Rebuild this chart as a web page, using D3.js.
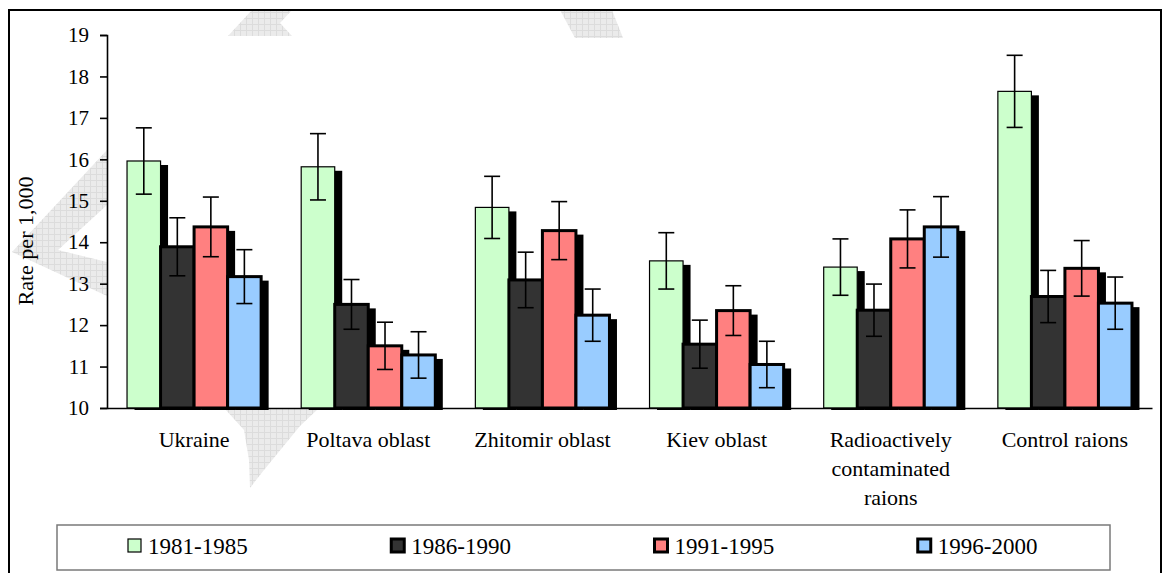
<!DOCTYPE html>
<html><head><meta charset="utf-8">
<script src="https://cdn.jsdelivr.net/npm/d3@7"></script>
<style>
body{margin:0;background:#fff}
svg{display:block}
text{font-family:"Liberation Serif","Times New Roman",serif;fill:#000}
</style>
</head><body>
<svg id="c" width="1164" height="573"></svg>
<script>
// ---- data ----
const categories = ["Ukraine","Poltava oblast","Zhitomir oblast","Kiev oblast","Radioactively contaminated raions","Control raions"];
const categoryLines = [["Ukraine"],["Poltava oblast"],["Zhitomir oblast"],["Kiev oblast"],["Radioactively","contaminated","raions"],["Control raions"]];
const seriesNames = ["1981-1985","1986-1990","1991-1995","1996-2000"];
const seriesColors = ["#CCFFCC","#333333","#FF8080","#99CCFF"];
const v1981 = [15.96,15.82,14.84,13.55,13.40,17.64];
const v1986 = [13.89,12.50,13.09,11.54,12.36,12.69];
const v1991 = [14.37,11.50,14.28,12.35,14.08,13.37];
const v1996 = [13.17,11.28,12.24,11.05,14.37,12.53];
const e1981 = [0.80,0.80,0.75,0.68,0.68,0.87];
const e1986 = [0.70,0.60,0.67,0.58,0.63,0.63];
const e1991 = [0.72,0.57,0.70,0.60,0.70,0.67];
const e1996 = [0.65,0.56,0.63,0.56,0.73,0.63];
const yTicks = [10,11,12,13,14,15,16,17,18,19];
const yTitle = "Rate per 1,000";

const values = [v1981,v1986,v1991,v1996];
const errors = [e1981,e1986,e1991,e1996];

const svg = d3.select("#c");

// ---- watermark (faint decoration) ----
const defs = svg.append("defs");
const pat = defs.append("pattern").attr("id","hatch").attr("width",6).attr("height",6)
  .attr("patternUnits","userSpaceOnUse");
pat.append("rect").attr("width",6).attr("height",6).attr("fill","#ebebeb");
pat.append("path").attr("d","M0,0.5H6M0.5,0V6").attr("stroke","#dcdcdc").attr("stroke-width",1);
const wm = [
  [[228,36],[252,10],[292,10],[280,23],[292,36]],
  [[560,10],[612,10],[623,38],[575,38]],
  [[107,150],[12,252],[107,296],[107,262],[58,250],[107,205]],
  [[225,409],[318,409],[300,426],[264,470],[250,488],[249,460],[244,430]]
];
svg.append("g").selectAll("polygon").data(wm).join("polygon")
  .attr("points",d=>d.map(p=>p.join(",")).join(" "))
  .attr("fill","url(#hatch)");

// ---- frame ----
svg.append("rect").attr("x",9).attr("y",10).attr("width",1152).attr("height",570)
  .attr("fill","none").attr("stroke","#000").attr("stroke-width",2);

// ---- scales ----
const x0 = d3.scaleBand().domain(categories).range([107,1152]).padding(0);
const bw = x0.bandwidth();
const x1 = d3.scaleBand().domain(seriesNames).range([bw*0.115, bw*0.885]).padding(0);
const y = d3.scaleLinear().domain([10,19]).range([408,35]);

// ---- bars ----
const gBars = svg.append("g");
seriesNames.forEach((s,si)=>{
  const data = categories.map((c,ci)=>({c,v:values[si][ci],e:errors[si][ci]}));
  const g = gBars.append("g");
  g.selectAll("rect.sh").data(data).join("rect").attr("class","sh")
    .attr("x",d=>x0(d.c)+x1(s)+7.5).attr("y",d=>y(d.v)+4)
    .attr("width",x1.bandwidth()).attr("height",d=>y(10)-y(d.v)-2)
    .attr("fill","#000");
  g.selectAll("rect.bar").data(data).join("rect").attr("class","bar")
    .attr("x",d=>x0(d.c)+x1(s)).attr("y",d=>y(d.v))
    .attr("width",x1.bandwidth()).attr("height",d=>y(10)-y(d.v))
    .attr("fill",seriesColors[si]).attr("stroke","#000")
    .attr("stroke-width",si===0?1.2:3);
});

// ---- error bars ----
const gErr = svg.append("g").attr("stroke","#000").attr("stroke-width",1.6);
seriesNames.forEach((s,si)=>{
  categories.forEach((c,ci)=>{
    const cx = x0(c)+x1(s)+x1.bandwidth()/2;
    const v = values[si][ci], e = errors[si][ci];
    gErr.append("line").attr("x1",cx).attr("x2",cx).attr("y1",y(v+e)).attr("y2",y(v-e));
    gErr.append("line").attr("x1",cx-8).attr("x2",cx+8).attr("y1",y(v+e)).attr("y2",y(v+e));
    gErr.append("line").attr("x1",cx-8).attr("x2",cx+8).attr("y1",y(v-e)).attr("y2",y(v-e));
  });
});

// ---- axes ----
const yAxis = svg.append("g").attr("transform","translate(107,0)")
  .call(d3.axisLeft(y).tickValues(yTicks).tickSize(7).tickPadding(11).tickFormat(d3.format("d")));
yAxis.select(".domain").attr("stroke","#000").attr("stroke-width",1.6);
yAxis.selectAll(".tick line").attr("stroke","#000").attr("stroke-width",1.6);
yAxis.selectAll("text").attr("font-size",21).attr("font-family","Liberation Serif");

const xAxis = svg.append("g").attr("transform","translate(0,408)")
  .call(d3.axisBottom(x0).tickSize(0).tickSizeOuter(0).tickFormat(""));
xAxis.select(".domain").attr("stroke","#000").attr("stroke-width",1.4);
xAxis.selectAll(".tick").each(function(d,i){
  const t = d3.select(this).append("text").attr("text-anchor","middle")
    .attr("font-size",22).attr("font-family","Liberation Serif").attr("fill","#000");
  categoryLines[i].forEach((ln,li)=>{
    t.append("tspan").attr("x",0).attr("y",39+li*29).text(ln);
  });
});

// ---- y title ----
svg.append("text").attr("transform","translate(33,241) rotate(-90)")
  .attr("text-anchor","middle").attr("font-size",22).text(yTitle);

// ---- legend ----
const lg = svg.append("g");
lg.append("rect").attr("x",57).attr("y",525).attr("width",1053).attr("height",45)
  .attr("fill","#fff").attr("stroke","#7a7a7a").attr("stroke-width",1.5);
const lx = d3.scaleBand().domain(seriesNames).range([57,1110]);
const items = lg.selectAll("g.it").data(seriesNames).join("g").attr("class","it")
  .attr("transform",d=>`translate(${lx(d)+71},0)`);
items.append("rect").attr("x",0).attr("y",539).attr("width",13).attr("height",13)
  .attr("fill",(d,i)=>seriesColors[i]).attr("stroke","#000")
  .attr("stroke-width",(d,i)=>i===0?1.2:3);
items.append("text").attr("x",20).attr("y",554).attr("font-size",23).text(d=>d);
</script>
</body></html>
